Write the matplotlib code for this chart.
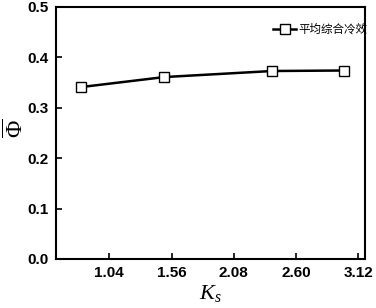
import matplotlib
matplotlib.use("Agg")
import matplotlib.pyplot as plt

ks = [0.8, 1.5, 2.4, 3.0]
phi = [0.341, 0.361, 0.373, 0.374]
xticks = [1.04, 1.56, 2.08, 2.60, 3.12]
yticks = [0.0, 0.1, 0.2, 0.3, 0.4, 0.5]
label = "平均综合冷效"

plt.rcParams['mathtext.fontset'] = 'custom'
plt.rcParams['mathtext.rm'] = 'Liberation Serif'
plt.rcParams['mathtext.it'] = 'Liberation Serif:italic'
plt.rcParams['mathtext.bf'] = 'Liberation Serif:bold'
fig = plt.figure(figsize=(3.76, 3.08), dpi=100)
ax = fig.add_axes([56/376, 1-259/308, (365-56)/376, (259-7)/308])
ax.plot(ks, phi, color='black', lw=1.8, marker='s', ms=6.5, mfc='white', mec='black', mew=1.0, label=label)
ax.set_xlim(0.595, 3.176)
ax.set_ylim(0, 0.5)
ax.set_xticks(xticks)
ax.set_xticklabels([f"{t:.2f}" for t in xticks])
ax.set_yticks(yticks)
ax.set_yticklabels([f"{t:.1f}" for t in yticks])
for lab in ax.get_xticklabels() + ax.get_yticklabels():
    lab.set_fontfamily('Liberation Sans')
    lab.set_fontweight('bold')
    lab.set_fontsize(11)
ax.tick_params(direction='in', length=4, width=1.2, pad=5)
for s in ax.spines.values():
    s.set_linewidth(1.5)
ax.set_xlabel(r'$K_s$', fontsize=16, labelpad=2)
ax.set_ylabel('$\\overline{\\mathit{Φ}}$', fontsize=17, labelpad=0)
ax.yaxis.set_label_coords(-0.09, 0.52)
leg = ax.legend(loc='upper right', frameon=False, prop={'family': ['Noto Sans CJK SC', 'DejaVu Sans'], 'size': 8.3},
                handlelength=2.0, handletextpad=0.2, bbox_to_anchor=(1.035, 0.97), borderaxespad=0.3)
fig.savefig('out.png', dpi=100)
